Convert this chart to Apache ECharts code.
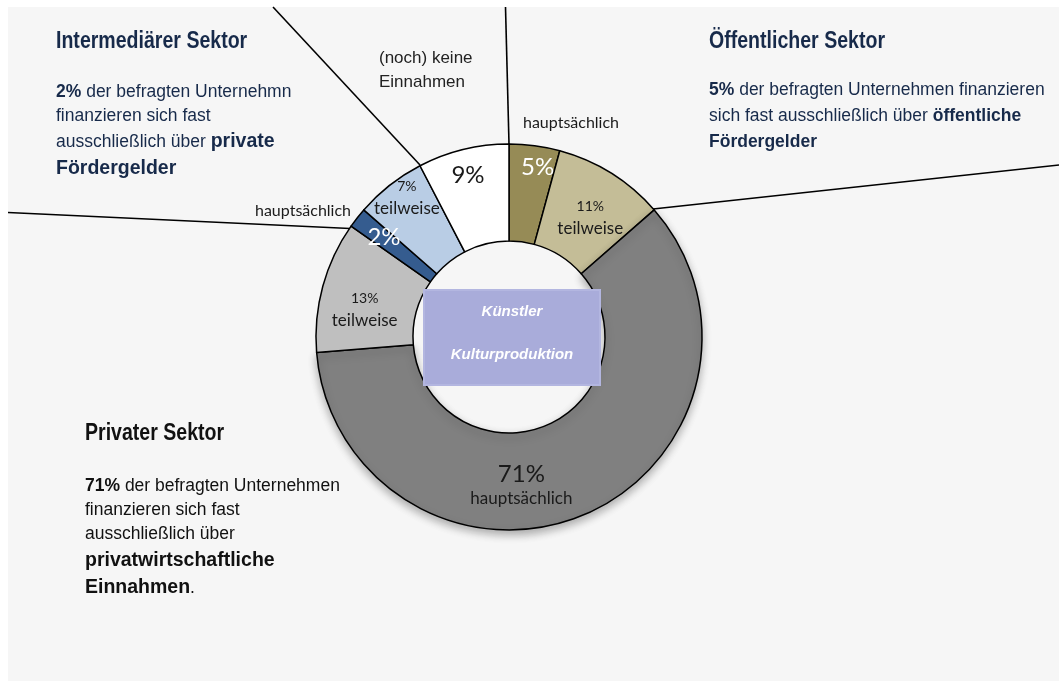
<!doctype html>
<html lang="de">
<head>
<meta charset="UTF-8" />
<title>Finanzierung Künstler / Kulturproduktion</title>
<script src="https://fastly.jsdelivr.net/npm/echarts@6/dist/echarts.min.js"></script>
<style>
  * { margin: 0; padding: 0; }
  html, body, #chart { width: 100%; height: 100%; overflow: hidden; background: #fff; }
</style>
</head>
<body>
<div id="chart"></div>
<script>
// slices, clockwise from 12 o'clock
const categories = [
  'Öffentlich hauptsächlich', 'Öffentlich teilweise',
  'Privat hauptsächlich', 'Privat teilweise',
  'Intermediär hauptsächlich', 'Intermediär teilweise',
  '(noch) keine Einnahmen'
];
const values = [5, 11, 71, 13, 2, 7, 9];
const tags = ['', 'teilweise', 'hauptsächlich', 'teilweise', '', 'teilweise', ''];

const colors = ['#968B56', '#C4BD97', '#808080', '#BFBFBF', '#355C8F', '#B9CDE5', '#FFFFFF'];
const labelKind = ['bigW', 'small', 'big', 'small', 'bigW', 'small', 'big'];
const labelShift = [[9, -24], [3, 6], [-45, 12], [-2, 11], [-9, -9], [-11, -23], [-6, -18]];

const calib = 'Lato, "Open Sans", sans-serif';
const arial = '"Liberation Sans", Arial, sans-serif';
const navy = '#172A4A';

const data = values.map(function (v, i) {
  const k = labelKind[i];
  const item = {
    name: categories[i],
    value: v,
    itemStyle: { color: colors[i] },
    label: { formatter: '{' + k + '|' + v + '%}' + (tags[i] ? '\n{tag|' + tags[i] + '}' : '') }
  };
  if (i === 2) {
    item.itemStyle.shadowBlur = 8;
    item.itemStyle.shadowColor = 'rgba(0,0,0,0.3)';
    item.itemStyle.shadowOffsetY = 4;
  }
  return item;
});

function txt(x, y, text, style) {
  return {
    type: 'text', x: x, y: y, z: 10,
    style: Object.assign({ text: text, textAlign: 'left', textVerticalAlign: 'middle' }, style)
  };
}

// condensed headline (no narrow font installed, so squeeze it)
function head(x, y, text, color) {
  const t = txt(x, y, text, { font: 'bold 23px ' + arial, fill: color });
  t.scaleX = 0.85;
  return t;
}

function ln(x1, y1, x2, y2) {
  return { type: 'line', z: 1, shape: { x1: x1, y1: y1, x2: x2, y2: y2 }, style: { stroke: '#000', lineWidth: 1.6 } };
}

const bodyRich = function (color, boldSize, regLh, boldLh) {
  return {
    r: { fontFamily: arial, fontSize: 17.5, fill: color, lineHeight: regLh },
    b: { fontFamily: arial, fontSize: 17.5, fontWeight: 'bold', fill: color, lineHeight: regLh },
    B: { fontFamily: arial, fontSize: boldSize, fontWeight: 'bold', fill: color, lineHeight: boldLh }
  };
};

const chart = echarts.init(document.getElementById('chart'));
chart.setOption({
  backgroundColor: '#fff',
  animation: false,
  graphic: [
    { type: 'rect', z: 0, shape: { x: 8, y: 7, width: 1051, height: 674 }, style: { fill: '#F6F6F6' } },
    ln(273, 7, 420, 165),
    ln(505.5, 7, 509, 144),
    ln(653, 209, 1059, 165),
    ln(8, 212.5, 350, 228.5),
    // sector texts
    head(56, 42, 'Intermediärer Sektor', navy),
    {
      type: 'text', x: 56, y: 80.5, z: 10,
      style: {
        text: '{b|2%}{r| der befragten Unternehmn}\n{r|finanzieren sich fast}\n{r|ausschließlich über }{B|private}\n{B|Fördergelder}',
        rich: bodyRich(navy, 19.5, 24, 27)
      }
    },
    head(709, 42, 'Öffentlicher Sektor', navy),
    {
      type: 'text', x: 709, y: 77, z: 10,
      style: {
        text: '{b|5%}{r| der befragten Unternehmen finanzieren}\n{r|sich fast ausschließlich über }{b|öffentliche}\n{b|Fördergelder}',
        rich: bodyRich(navy, 17.5, 26, 26)
      }
    },
    head(85, 434, 'Privater Sektor', '#111'),
    {
      type: 'text', x: 85, y: 474, z: 10,
      style: {
        text: '{b|71%}{r| der befragten Unternehmen}\n{r|finanzieren sich fast}\n{r|ausschließlich über}\n{B|privatwirtschaftliche}\n{B|Einnahmen}{r|.}',
        rich: bodyRich('#111', 19.5, 24.2, 27.5)
      }
    },
    txt(379, 58, '(noch) keine', { font: '17px ' + arial, fill: '#222' }),
    txt(379, 82, 'Einnahmen', { font: '17px ' + arial, fill: '#222' }),
    txt(571, 123, 'hauptsächlich', { font: '16px ' + calib, fill: '#1a1a1a', textAlign: 'center' }),
    txt(303, 211, 'hauptsächlich', { font: '16px ' + calib, fill: '#1a1a1a', textAlign: 'center' }),
    // centre box
    {
      type: 'rect', z: 10, shape: { x: 424, y: 290, width: 176, height: 95 },
      style: { fill: '#A9ACDA', stroke: '#B3B6E0', lineWidth: 2 }
    },
    txt(512, 312, 'Künstler', { font: 'italic bold 15px ' + arial, fill: '#fff', textAlign: 'center' }),
    txt(512, 355, 'Kulturproduktion', { font: 'italic bold 15px ' + arial, fill: '#fff', textAlign: 'center' })
  ],
  series: [
    {
      type: 'pie',
      center: [509, 337],
      radius: [96, 193],
      startAngle: 90,
      clockwise: true,
      avoidLabelOverlap: false,
      itemStyle: { borderColor: '#000', borderWidth: 1.5 },
      label: {
        show: true,
        position: 'inside',
        fontFamily: calib,
        rich: {
          big: { fontFamily: calib, fontSize: 24, color: '#1a1a1a', lineHeight: 27 },
          bigW: { fontFamily: calib, fontSize: 24, color: '#fff', lineHeight: 27 },
          small: { fontFamily: calib, fontSize: 14, color: '#1a1a1a', lineHeight: 22 },
          tag: { fontFamily: calib, fontSize: 17, color: '#1a1a1a', lineHeight: 22 }
        }
      },
      labelLayout: function (p) {
        return { dx: labelShift[p.dataIndex][0], dy: labelShift[p.dataIndex][1] };
      },
      emphasis: { disabled: true },
      data: data
    }
  ]
});
</script>
</body>
</html>
